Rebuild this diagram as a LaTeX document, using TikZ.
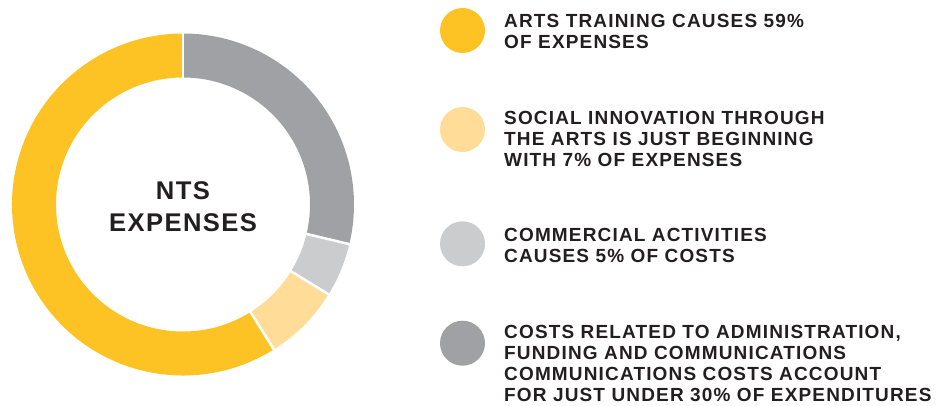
\documentclass[tikz,border=0pt]{standalone}
\usepackage{fontspec}
\setmainfont{Liberation Sans}
\newfontfamily\legendfont[LetterSpace=6.1]{Liberation Sans}
\newfontfamily\titlefont[LetterSpace=5.5]{Liberation Sans}
\usepackage{tikz}
\usetikzlibrary{calc}
\usepackage{xcolor}

\definecolor{artsyellow}{HTML}{FDC325}
\definecolor{socialyellow}{HTML}{FFDC97}
\definecolor{commgray}{HTML}{CBCCCE}
\definecolor{admingray}{HTML}{A0A1A4}
\definecolor{textblack}{HTML}{231F20}

\begin{document}
\begin{tikzpicture}[x=1pt, y=1pt,
  dot/.style={circle, inner sep=0pt, minimum size=45pt},
  legend/.style={anchor=north west, inner sep=0pt, align=left, text=textblack,
    font=\legendfont\bfseries\fontsize{19}{20.8}\selectfont},
  gap/.style={white, line width=2.5pt}]
  \useasboundingbox (0, 0) rectangle (939, 405);

  % Ring
  \begin{scope}[shift={(183, 200.5)}]
    \fill[admingray] (90:171) arc[start angle=90, end angle=-13.4, radius=171]
      -- (-13.4:127) arc[start angle=-13.4, end angle=90, radius=127] -- cycle;
    \fill[commgray] (-13.4:171) arc[start angle=-13.4, end angle=-31.7, radius=171]
      -- (-31.7:127) arc[start angle=-31.7, end angle=-13.4, radius=127] -- cycle;
    \fill[socialyellow] (-31.7:171) arc[start angle=-31.7, end angle=-57.9, radius=171]
      -- (-57.9:127) arc[start angle=-57.9, end angle=-31.7, radius=127] -- cycle;
    \fill[artsyellow] (-57.9:171) arc[start angle=-57.9, end angle=-270, radius=171]
      -- (-270:127) arc[start angle=-270, end angle=-57.9, radius=127] -- cycle;

    \draw[gap] (90:120) -- (90:178);
    \draw[gap] (-13.4:120) -- (-13.4:178);
    \draw[gap] (-31.7:120) -- (-31.7:178);
    \draw[gap] (-57.9:120) -- (-57.9:178);

    \node[align=center, inner sep=0pt, text=textblack,
      font=\titlefont\bfseries\fontsize{25.6}{31.7}\selectfont] (title) at (0, -2.2) {NTS\\EXPENSES};
  \end{scope}

  % Legend
  \node[dot, fill=artsyellow] (arts) at (462.5, 374.5) {};
  \node[dot, fill=socialyellow] (social) at (462.5, 275.5) {};
  \node[dot, fill=commgray] (comm) at (462.5, 161.2) {};
  \node[dot, fill=admingray] (admin) at (462.5, 61.8) {};

  \node[legend] (artstext) at (504, 391)
    {ARTS TRAINING CAUSES 59\%\\OF EXPENSES};
  \node[legend] (socialtext) at (504, 294)
    {SOCIAL INNOVATION THROUGH\\THE ARTS IS JUST BEGINNING\\WITH 7\% OF EXPENSES};
  \node[legend] (commtext) at (504, 177)
    {COMMERCIAL ACTIVITIES\\CAUSES 5\% OF COSTS};
  \node[legend] (admintext) at (504, 79.5)
    {COSTS RELATED TO ADMINISTRATION,\\FUNDING AND COMMUNICATIONS\\COMMUNICATIONS COSTS ACCOUNT\\FOR JUST UNDER 30\% OF EXPENDITURES};
\end{tikzpicture}
\end{document}
